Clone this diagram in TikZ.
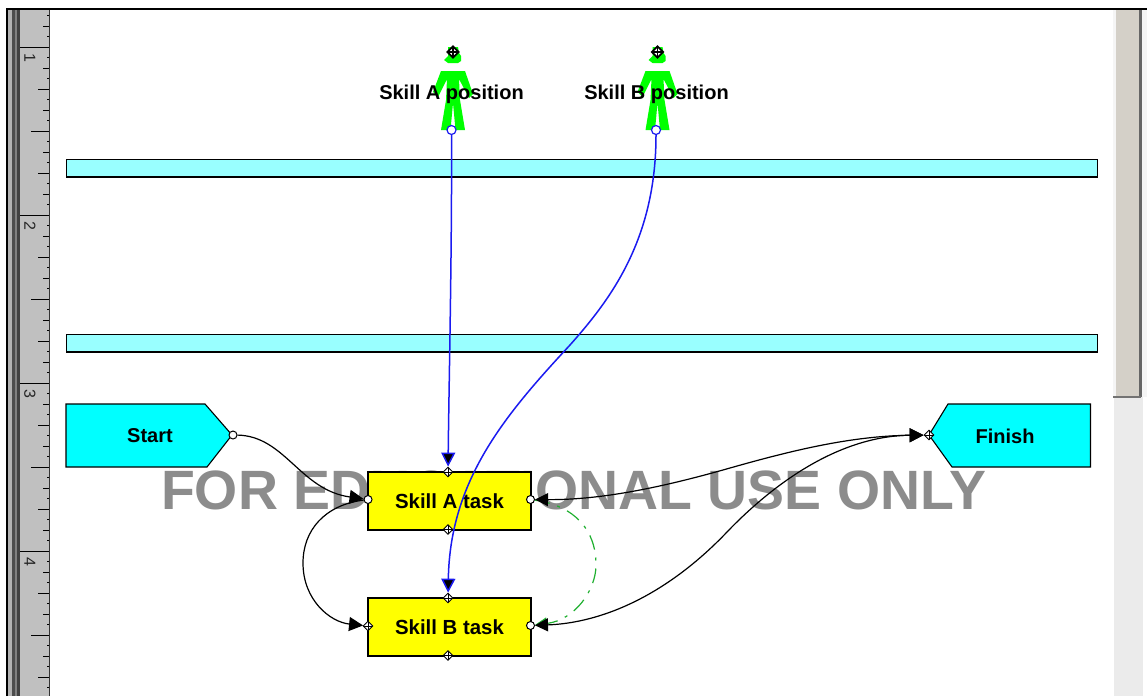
\documentclass[tikz,border=0pt]{standalone}
\usepackage{fontspec}
\setmainfont{Liberation Sans}
\usetikzlibrary{arrows.meta,shapes.geometric}
\definecolor{cyanbox}{HTML}{00FFFF}
\definecolor{barfill}{HTML}{99FFFF}
\definecolor{taskfill}{HTML}{FFFF00}
\definecolor{figgreen}{HTML}{00FF00}
\definecolor{wire}{HTML}{1A1AF0}
\definecolor{dashgreen}{HTML}{20B030}
\definecolor{rulergray}{HTML}{C0C0C0}
\definecolor{scrollgray}{HTML}{D4D0C8}
\definecolor{watermark}{HTML}{8C8C8C}
\tikzset{
  x=1pt,y=-1pt,
  barbox/.style={draw=black,line width=1.1pt,fill=barfill},
  endbox/.style={draw=black,line width=1.1pt,fill=cyanbox,line join=miter},
  taskbox/.style={draw=black,line width=1.1pt,fill=taskfill,minimum width=163pt,minimum height=58pt,inner sep=0pt,font=\fontsize{20.4}{22}\selectfont\bfseries},
  lbl/.style={inner sep=0pt,font=\fontsize{20}{22}\selectfont\bfseries},
  figlbl/.style={inner sep=0pt,font=\fontsize{20}{22}\selectfont\bfseries},
  oport/.style={circle,draw=black,fill=white,line width=1pt,minimum size=8pt,inner sep=0pt},
  bport/.style={oport,draw=wire,line width=1.2pt,minimum size=9pt},
  dport/.style={diamond,draw=black,fill=white,line width=.9pt,minimum size=10pt,inner sep=0pt,
    path picture={\draw[line width=.9pt] (path picture bounding box.north)--(path picture bounding box.south)
      (path picture bounding box.west)--(path picture bounding box.east);}},
  hport/.style={dport,line width=1.8pt,minimum size=12pt,
    path picture={\draw[line width=1.6pt] (path picture bounding box.north)--(path picture bounding box.south)
      (path picture bounding box.west)--(path picture bounding box.east);}},
  blackwire/.style={draw=black,line width=1.2pt},
  bluewire/.style={draw=wire,line width=1.5pt},
  greenwire/.style={draw=dashgreen,line width=1.2pt,dash pattern=on 15pt off 8pt on 3pt off 8pt},
  tip/.tip={Triangle[length=14pt,width=14pt,fill=black]},
}
\newcommand{\figpoly}[1]{%
  \fill[figgreen,shift={(#1,0)}] (-5,47)--(5,47)--(6,53)--(8,56)--(8,61)--(5,63)--(-5,63)--(-9,60)--(-5,56)--cycle;
  \fill[figgreen,shift={(#1,0)}] (-12,71)--(12,71)--(20,94)--(16,98)--(6,79)--(7,100)--(12,130)--(2.5,130)--(0,103)--(-2.5,130)--(-12,130)--(-7,100)--(-6,79)--(-15,97)--(-20,92)--cycle;
}
\begin{document}
\begin{tikzpicture}
\useasboundingbox (0,0) rectangle (1147,696);
\fill[white] (0,0) rectangle (1147,696);
% left strips and ruler
\fill[rulergray] (20,9) rectangle (49,696);
\fill[gray!60] (8,9) rectangle (12,696);
\fill[black!70] (12,9) rectangle (15,696);
\fill[gray] (15,9) rectangle (17,696);
\fill[black!75] (17,9) rectangle (20,696);
\draw[black!80,line width=1pt] (49,9)--(49,696);
\foreach \k in {-3,...,61}{
  \pgfmathsetmacro{\yy}{47+10.5*\k}
  \pgfmathtruncatemacro{\mm}{mod(\k+64,16)}
  \pgfmathtruncatemacro{\me}{mod(\k+64,8)}
  \pgfmathtruncatemacro{\mq}{mod(\k+64,4)}
  \pgfmathtruncatemacro{\mt}{mod(\k+64,2)}
  \pgfmathsetmacro{\xs}{\mm==0?20:(\me==0?31:(\mq==0?38:(\mt==0?43:47)))}
  \draw[black,line width=1pt] (\xs,\yy)--(49,\yy);
}
\foreach \d in {1,2,3,4}{
  \node[rotate=-90,inner sep=0pt,font=\fontsize{16}{17}\selectfont,text=black!85] (r\d) at (30,{47+168*(\d-1)+11}) {\d};
}
% scrollbar
\fill[black!8] (1114,397) rectangle (1143,696);
\fill[scrollgray] (1113,9) rectangle (1141,397);
\fill[white!92!gray] (1113,9) rectangle (1116,397);
\fill[black!60] (1139,9) rectangle (1142,397);
\fill[white!92!gray] (1142,9) rectangle (1147,397);
\fill[black!55] (1113,396) rectangle (1141,398);
% frame
\draw[black,line width=1.6pt] (7,696)--(7,9)--(1147,9);
% watermark
\node[inner sep=0pt,text=watermark,font=\fontsize{55.4}{57}\selectfont\bfseries] (wm) at (573.5,490.5) {FOR EDUCATIONAL USE ONLY};
% bars
\path[barbox] (66.5,159.5) rectangle (1097.5,177);
\path[barbox] (66.5,334.5) rectangle (1097.5,352);
% figures
\figpoly{453}
\figpoly{657.5}
\node[figlbl] (la) at (451.5,94) {Skill A position};
\node[figlbl] (lb) at (656.5,94) {Skill B position};
\node[hport] (ha) at (453,52) {};
\node[hport] (hb) at (657.5,52) {};
\node[bport] (pa) at (451.5,130) {};
\node[bport] (pb) at (656,130) {};
% end boxes
\path[endbox] (66,404)--(205,404)--(232,435)--(207,467)--(66,467)--cycle;
\path[endbox] (1090.5,404)--(948,404)--(929,435)--(952,467)--(1090.5,467)--cycle;
\node[lbl] (start) at (150,436) {Start};
\node[lbl] (finish) at (1005,436) {Finish};
\node[oport] (so) at (233,435) {};
\node[dport] (fi) at (929,435) {};
% tasks
\node[taskbox] (ta) at (449.5,501) {Skill A task};
\node[taskbox] (tb) at (449.5,627) {Skill B task};
\node[dport] (tat) at (448,472) {};
\node[dport] (tab) at (448,529.5) {};
\node[dport] (tbt) at (448,598) {};
\node[dport] (tbb) at (448,655.5) {};
\node[oport] (tal) at (368,499.5) {};
\node[oport] (tar) at (530.5,499.5) {};
\node[dport] (tbl) at (368,626) {};
\node[oport] (tbr) at (530.5,625.5) {};
% connectors
\draw[greenwire,-{Triangle[length=12pt,width=12pt,fill=dashgreen]}] (tar) .. controls (575,506) and (596,530) .. (596,565) .. controls (596,590) and (575,620) .. (tbr);
\draw[blackwire,-{tip}] (so) .. controls (285,436) and (300,490) .. (tal);
\draw[blackwire,-{tip}] (tal) .. controls (325,505) and (303,530) .. (303,563) .. controls (303,600) and (330,622) .. (tbl);
\draw[blackwire,{Triangle[length=13pt,width=13pt,fill=black]}-{tip}] (tar) .. controls (600,500) and (660,488) .. (730,468) .. controls (790,451) and (850,436) .. (fi);
\draw[blackwire,{Triangle[length=13pt,width=13pt,fill=black]}-{tip}] (tbr) .. controls (600,623) and (665,597) .. (727,532) .. controls (775,482) and (840,436) .. (fi);
\draw[bluewire,-{Triangle[length=14pt,width=14pt,fill=black]}] (pa) .. controls (452,250) and (449,380) .. (tat);
\draw[bluewire,-{Triangle[length=14pt,width=14pt,fill=black]}] (pb) .. controls (656,240) and (610,300) .. (570,345) .. controls (505,415) and (450,480) .. (tbt);
\end{tikzpicture}
\end{document}
